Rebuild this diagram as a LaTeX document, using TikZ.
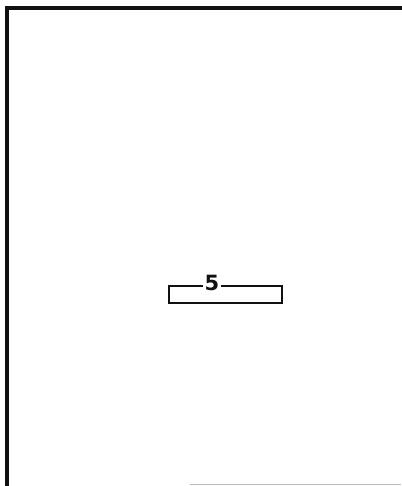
\documentclass[tikz,border=0pt]{standalone}
\usepackage{fontspec}
\setsansfont{DejaVu Sans}
\usepackage{xcolor}
\definecolor{plotInk}{HTML}{111111}
\definecolor{plotFaint}{HTML}{BBBBBB}
\usetikzlibrary{positioning}

\begin{document}
\begin{tikzpicture}[
  x=1pt, y=-1pt,
  frame/.style={draw=plotInk, line width=4pt},
  slab/.style={draw=plotInk, line width=2pt, minimum width=113pt, minimum height=17pt, inner sep=0pt},
  tag/.style={fill=white, text=plotInk, inner sep=1.5pt, font=\sffamily\bfseries\fontsize{21}{21}\selectfont}
]
\useasboundingbox (0,0) rectangle (401,486);

% Sheet border (left and top edges)
\coordinate (frameBL) at (7,490);
\coordinate (frameTL) at (7,8);
\coordinate (frameTR) at (405,8);
\draw[frame] (frameBL) -- (frameTL) -- (frameTR);
\coordinate (edgeL) at (190,484.5);
\coordinate (edgeR) at (401,484.5);
\draw[plotFaint, line width=1pt] (edgeL) -- (edgeR);

% Labelled bar
\node[slab] (bar) at (225,294) {};
\node[tag] (barTag) at (212,283) {5};

\end{tikzpicture}
\end{document}
